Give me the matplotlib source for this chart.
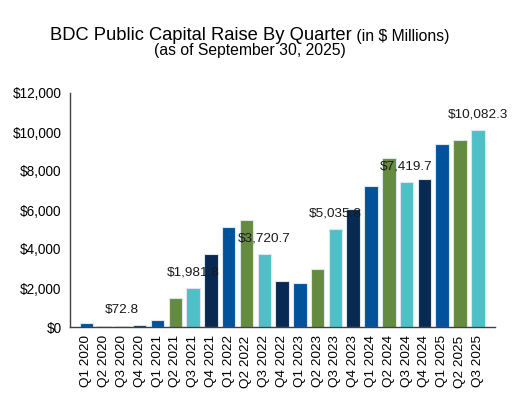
import matplotlib
matplotlib.use("Agg")
import matplotlib.pyplot as plt
from matplotlib.ticker import FuncFormatter
from matplotlib.offsetbox import TextArea, HPacker, AnchoredOffsetbox

plt.rcParams['font.family'] = ['Liberation Sans', 'DejaVu Sans']

quarters = ["Q1 2020", "Q2 2020", "Q3 2020", "Q4 2020",
            "Q1 2021", "Q2 2021", "Q3 2021", "Q4 2021",
            "Q1 2022", "Q2 2022", "Q3 2022", "Q4 2022",
            "Q1 2023", "Q2 2023", "Q3 2023", "Q4 2023",
            "Q1 2024", "Q2 2024", "Q3 2024", "Q4 2024",
            "Q1 2025", "Q2 2025", "Q3 2025"]
values = [200, 60, 72.8, 120,
          380, 1510, 1981.8, 3740,
          5140, 5485, 3720.7, 2335,
          2245, 3000, 5035.8, 6035,
          7250, 8673, 7419.7, 7578,
          9378, 9584, 10082.3]
labeled = {"Q3 2020": "$72.8", "Q3 2021": "$1,981.8", "Q3 2022": "$3,720.7",
           "Q3 2023": "$5,035.8", "Q3 2024": "$7,419.7", "Q3 2025": "$10,082.3"}
quarter_colors = {"Q1": "#00539A", "Q2": "#658B40", "Q3": "#4FBFC8", "Q4": "#082A52"}
y_ticks = [0, 2000, 4000, 6000, 8000, 10000, 12000]

fig = plt.figure(figsize=(5.2, 4.12), dpi=100)
ax = fig.add_axes([70/520, 1-327/412, (495-70)/520, (327-93)/412])

x = list(range(len(quarters)))
colors = [quarter_colors[q[:2]] for q in quarters]
ax.bar(x, values, width=0.76, color=colors, edgecolor="#dde6ea", linewidth=0.8)

for i, q in enumerate(quarters):
    if q in labeled:
        ax.annotate(labeled[q], (i, values[i]), xytext=(0, 7), textcoords="offset points",
                    ha="center", va="bottom", fontsize=9.7, color="#1a1a1a")

ax.set_xlim(-0.92, len(quarters) - 1 + 0.97)
ax.set_ylim(0, 12000)
ax.set_yticks(y_ticks)
ax.yaxis.set_major_formatter(FuncFormatter(lambda v, p: "${:,.0f}".format(v)))
ax.set_xticks(x)
ax.set_xticklabels(quarters, rotation=90, fontsize=9.7)
ax.tick_params(axis="y", length=0, pad=6, labelsize=9.8)
ax.tick_params(axis="x", length=0, pad=6)
for s in ["top", "right"]:
    ax.spines[s].set_visible(False)
for s in ["left", "bottom"]:
    ax.spines[s].set_color("#404040")
    ax.spines[s].set_linewidth(1.0)

ta1 = TextArea("BDC Public Capital Raise By Quarter", textprops=dict(fontsize=13.2, color="black"))
ta2 = TextArea(" (in $ Millions)", textprops=dict(fontsize=11.3, color="black"))
pack = HPacker(children=[ta1, ta2], align="baseline", pad=0, sep=0)
ab = AnchoredOffsetbox(loc="center", child=pack, bbox_to_anchor=(250/520, 1-36/412),
                       bbox_transform=fig.transFigure, frameon=False, pad=0, borderpad=0)
fig.add_artist(ab)
fig.text(250/520, 1-51/412, "(as of September 30, 2025)", ha="center", va="center",
         fontsize=11.3, color="black")

fig.savefig("out.png", dpi=100, facecolor="white")
